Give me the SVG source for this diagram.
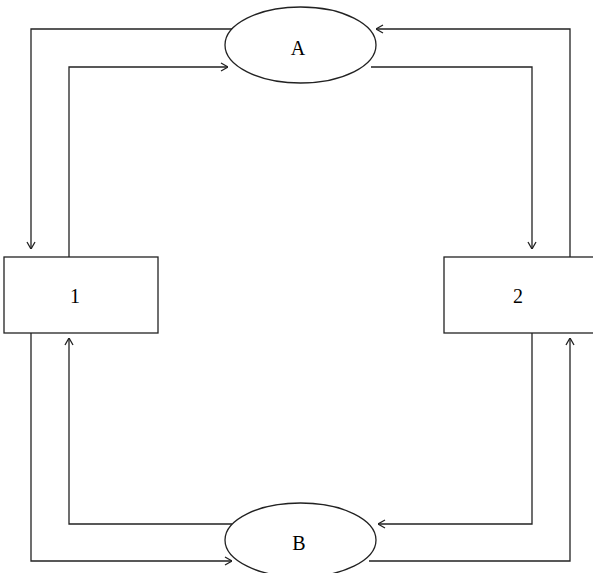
<svg xmlns="http://www.w3.org/2000/svg" width="593" height="573" viewBox="0 0 593 573">
<style>
.ln{fill:none;stroke:#222;stroke-width:1.3}
.nd{fill:#fff;stroke:#222;stroke-width:1.3}
.tx{font-family:"Liberation Serif","Times New Roman",serif;font-size:20px;fill:#000;text-anchor:middle}
</style>
<defs>
<marker id="ah" viewBox="0 0 10 10" refX="10" refY="5" markerWidth="10" markerHeight="10" markerUnits="userSpaceOnUse" orient="auto">
<path d="M3,1 L10,5 L3,9" fill="none" stroke="#222" stroke-width="1.3"/>
</marker>
</defs>
<rect width="593" height="573" fill="#fff"/>
<g id="connectors">
<path class="ln" d="M232,29 H31 V249" marker-end="url(#ah)"/>
<path class="ln" d="M69,257 V67 H228" marker-end="url(#ah)"/>
<path class="ln" d="M371,67 H532 V249" marker-end="url(#ah)"/>
<path class="ln" d="M570,257 V29 H376" marker-end="url(#ah)"/>
<path class="ln" d="M31,333 V561 H232" marker-end="url(#ah)"/>
<path class="ln" d="M232,524 H69 V338" marker-end="url(#ah)"/>
<path class="ln" d="M532,333 V524 H378" marker-end="url(#ah)"/>
<path class="ln" d="M369,561 H570 V338" marker-end="url(#ah)"/>
</g>
<g id="nodeA">
<ellipse class="nd" cx="300.5" cy="45" rx="75.5" ry="38" style="fill:none"/>
<text class="tx" x="298" y="55">A</text>
</g>
<g id="nodeB">
<ellipse class="nd" cx="300.5" cy="540" rx="75.5" ry="37" style="fill:none"/>
<text class="tx" x="299" y="550">B</text>
</g>
<g id="node1">
<rect class="nd" x="4" y="257" width="154" height="76"/>
<text class="tx" x="75" y="303">1</text>
</g>
<g id="node2">
<rect class="nd" x="444" y="257" width="154" height="76"/>
<text class="tx" x="518" y="303">2</text>
</g>
</svg>
